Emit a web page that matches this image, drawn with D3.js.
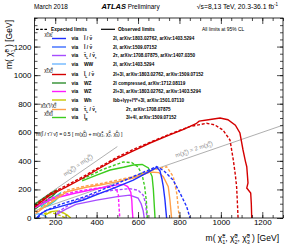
<!DOCTYPE html>
<html>
<head>
<meta charset="utf-8">
<script src="https://cdn.jsdelivr.net/npm/d3@7"></script>
<style>
  body { margin: 0; background: #fff; }
  text { font-family: "Liberation Sans", Arial, sans-serif; }
</style>
</head>
<body>
<svg id="chart" width="288" height="248"></svg>
<script>
// ATLAS electroweakino summary, March 2018

// legend entries (one per analysis)
const groupLabels = ['χ̃^{+}_{1}χ̃^{-}_{1}', 'χ̃^{±}_{1}χ̃^{0}_{2}', 'χ̃^{±}_{1}χ̃^{∓}_{1}/χ̃^{0}_{2}', 'χ̃^{0}_{2}χ̃^{0}_{3}']
const seriesIds = ['c1c1Slep', 'c1c1Slep8', 'c1c1Stau', 'c1c1WW', 'c1n2Slep', 'c1n2WZcomp', 'c1n2WZ', 'c1n2Wh', 'c1n2Stau', 'n2n3Slep']
const seriesGroup = [0, 0, 0, 0, 1, 1, 1, 1, 2, 3]
const viaLabels = ['l̃ / ν̃', 'l̃ / ν̃', 'τ̃_{L} / ν̃_{τ}', 'WW', 'l̃_{L} / ν̃', 'WZ', 'WZ', 'Wh', 'τ̃_{L} / ν̃_{τ}', 'l̃_{R}']
const refLabels = [
    '2l, arXiv:1803.02762, arXiv:1403.5294',
    '2l, arXiv:1509.07152',
    '2τ, arXiv:1708.07875, arXiv:1407.0350',
    '2l, arXiv:1403.5294',
    '2l+3l, arXiv:1803.02762, arXiv:1509.07152',
    '2l compressed, arXiv:1712.08119',
    '2l+3l, arXiv:1803.02762, arXiv:1403.5294',
    'lbb+lγγ+l^{±}l^{±}+3l, arXiv:1501.07110',
    '2τ, arXiv:1708.07875',
    '3l+4l, arXiv:1509.07152'
]

// exclusion contours [m(chargino/neutralino), m(LSP)] in GeV
const c1c1SlepObs = [[110, 0], [130, 30], [160, 55], [223, 80], [335, 126], [416, 172], [498, 218], [577, 265], [658, 328], [690, 355], [706, 330], [715, 275], [722, 219], [730, 126], [734, 60], [738, 0]]
const c1c1SlepExp = [[115, 0], [140, 42], [223, 95], [335, 145], [416, 192], [498, 240], [577, 290], [658, 340], [690, 360], [725, 330], [769, 266], [803, 174], [835, 79], [851, 0]]
const c1c1StauObs = [[200, 20], [250, 60], [300, 95], [400, 125], [500, 150], [560, 160], [600, 140], [615, 100], [625, 50], [630, 0]]
const c1c1StauExp = [[210, 40], [300, 120], [400, 170], [480, 195], [560, 205], [600, 195], [625, 160], [637, 100], [643, 0]]
const c1c1WWObs = [[100, 25], [120, 30], [140, 22], [155, 10], [160, 0]]
const c1n2SlepObs = [[100, 75], [130, 110], [175, 160], [250, 215], [335, 280], [416, 350], [498, 415], [577, 470], [658, 525], [750, 580], [820, 620], [880, 660], [895, 678], [940, 688], [996, 700], [1034, 688], [1070, 650], [1092, 595], [1107, 476], [1118, 400], [1125, 359], [1131, 245], [1125, 210], [1144, 175], [1147, 100], [1149, 0]]
const c1n2SlepExp = [[100, 85], [175, 170], [250, 225], [335, 290], [416, 358], [498, 425], [577, 480], [658, 530], [750, 585], [850, 640], [931, 663], [970, 652], [1010, 616], [1044, 546], [1060, 406], [1070, 300], [1076, 219], [1080, 100], [1083, 0]]
const c1n2WZcompObs = [[100, 92], [130, 124], [160, 153], [190, 182], [205, 195], [210, 190], [195, 165], [165, 130], [135, 98], [110, 70], [100, 60]]
const c1n2WZcompExp = [[100, 96], [140, 134], [175, 168], [200, 190], [205, 180], [180, 150], [145, 112], [115, 80], [100, 66]]
const c1n2WZObs = [[100, 70], [150, 110], [200, 140], [300, 175], [400, 205], [460, 222], [500, 232], [530, 235], [550, 220], [565, 180], [570, 120], [572, 60], [575, 0]]
const c1n2WZExp = [[100, 80], [150, 120], [200, 150], [300, 185], [400, 208], [470, 218], [495, 205], [505, 160], [508, 80], [512, 0]]
const c1n2WhObs = [[150, 20], [180, 45], [210, 50], [240, 35], [260, 18], [275, 0]]
const c1n2WhExp = [[145, 30], [175, 40], [200, 30], [230, 15], [250, 0]]
const cyanLoop = [[130, 80], [160, 110], [190, 140], [215, 165], [225, 175], [220, 150], [200, 120], [170, 90], [145, 75], [130, 80]]
const c1n2StauObs = [[105, 30], [150, 80], [257, 184], [350, 215], [416, 231], [500, 255], [577, 280], [658, 322], [700, 318], [722, 289], [746, 219], [754, 126], [762, 0]]
const c1n2StauExp = [[105, 40], [150, 90], [257, 195], [350, 225], [416, 240], [500, 265], [577, 290], [658, 332], [738, 359], [770, 289], [787, 173], [799, 0]]
const n2n3SlepObs = [[330, 260], [400, 300], [465, 336], [530, 355], [577, 371], [620, 375], [650, 350], [668, 290], [674, 200], [678, 100], [682, 0]]
const n2n3SlepExp = [[330, 272], [430, 340], [528, 392], [570, 388], [600, 358], [620, 300], [632, 220], [640, 120], [645, 0]]

// kinematic reference lines
const diagLine = [[100, 100], [500, 500]]
const halfLine = [[100, 50], [1300, 650]]

const xTicks = [200, 400, 600, 800, 1000, 1200]
const yTicks = [0, 200, 400, 600, 800, 1000, 1200]

const colour = {
    c1c1Slep: '#1f2fff', c1c1Slep8: '#3b6cff', c1c1Stau: '#a64dff', c1c1WW: '#6fb8ff',
    c1n2Slep: '#d40000', c1n2WZcomp: '#2e8f2e', c1n2WZ: '#ff1aff', c1n2Wh: '#c8c800',
    c1n2Stau: '#ffa04a', n2n3Slep: '#3ccc1e'
}

const curves = [
    { id: 'c1n2WZcomp', obs: c1n2WZcompObs, exp: c1n2WZcompExp },
    { id: 'c1c1WW', obs: c1c1WWObs, exp: null },
    { id: 'c1n2Wh', obs: c1n2WhObs, exp: c1n2WhExp },
    { id: 'c1c1Stau', obs: c1c1StauObs, exp: c1c1StauExp },
    { id: 'c1n2WZ', obs: c1n2WZObs, exp: c1n2WZExp },
    { id: 'n2n3Slep', obs: n2n3SlepObs, exp: n2n3SlepExp },
    { id: 'c1n2Stau', obs: c1n2StauObs, exp: c1n2StauExp },
    { id: 'c1c1Slep', obs: c1c1SlepObs, exp: c1c1SlepExp },
    { id: 'c1n2Slep', obs: c1n2SlepObs, exp: c1n2SlepExp }
]

const x = d3.scaleLinear().domain([100, 1300]).range([34.5, 283])
const y = d3.scaleLinear().domain([0, 1400]).range([218, 18])

const svg = d3.select('#chart')

// text with ^{sup} and _{sub} markup
function rich(sel, str, fs) {
    const parts = str.split(/(\^\{[^}]*\}|_\{[^}]*\})/).filter(p => p !== '')
    let cur = 0, prevSup = null
    parts.forEach(p => {
        let lvl = 0, txt = p
        if (p.startsWith('^{')) { lvl = -0.4 * fs; txt = p.slice(2, -1) }
        else if (p.startsWith('_{')) { lvl = 0.3 * fs; txt = p.slice(2, -1) }
        const t = sel.append('tspan').attr('dy', lvl - cur).text(txt)
        if (lvl !== 0) t.attr('font-size', fs * 0.65)
        if (p.startsWith('_{') && prevSup) t.attr('dx', -prevSup.length * 0.37 * fs)
        prevSup = p.startsWith('^{') ? txt : null
        cur = lvl
    })
    return sel
}

svg.append('clipPath').attr('id', 'plotArea')
    .append('rect').attr('x', 34.5).attr('y', 18).attr('width', 248.5).attr('height', 200)

const plot = svg.append('g').attr('clip-path', 'url(#plotArea)')
const line = d3.line().x(d => x(d[0])).y(d => y(d[1]))

// reference lines
plot.selectAll('.ref')
    .data([diagLine, halfLine])
    .join('path')
    .attr('d', line)
    .attr('fill', 'none')
    .attr('stroke', '#9a9a9a')
    .attr('stroke-width', 0.8)

function angleOf(seg) {
    return Math.atan2(y(seg[1][1]) - y(seg[0][1]), x(seg[1][0]) - x(seg[0][0])) * 180 / Math.PI
}

rich(svg.append('text')
    .attr('transform', `translate(${x(330) - 3},${y(330) - 4}) rotate(${angleOf(diagLine)})`)
    .attr('text-anchor', 'middle')
    .attr('font-size', 5.8)
    .attr('fill', '#8a8a8a'), 'm(χ̃^{0}_{2}) = m(χ̃^{0}_{1})', 5.8)

rich(svg.append('text')
    .attr('transform', `translate(${x(880) - 1.5},${y(440) - 4}) rotate(${angleOf(halfLine)})`)
    .attr('text-anchor', 'middle')
    .attr('font-size', 5.8)
    .attr('fill', '#8a8a8a'), 'm(χ̃^{±}_{1}) = 2 m(χ̃^{0}_{1})', 5.8)

// cyan loop near the diagonal
plot.append('path')
    .attr('d', line(cyanLoop))
    .attr('fill', 'none')
    .attr('stroke', '#22d3d3')
    .attr('stroke-width', 1.2)

curves.forEach(c => {
    if (c.exp) {
        plot.append('path')
            .attr('d', line(c.exp))
            .attr('fill', 'none')
            .attr('stroke', colour[c.id])
            .attr('stroke-width', 1.4)
            .attr('stroke-dasharray', '3,1.8')
    }
    plot.append('path')
        .attr('d', line(c.obs))
        .attr('fill', 'none')
        .attr('stroke', colour[c.id])
        .attr('stroke-width', 1.4)
})

// axes with inward ticks (major + minor)
function ticksOn(axisFn, scale, pos, values, size, labels) {
    const a = axisFn(scale).tickValues(values).tickSizeInner(-size).tickSizeOuter(0)
    if (!labels) a.tickFormat('')
    else a.tickPadding(axisFn === d3.axisBottom ? 1.5 : 3).tickFormat(d3.format('d'))
    const g = svg.append('g').attr('transform', pos).call(a)
    g.select('.domain').remove()
    g.selectAll('line').attr('stroke', '#000').attr('stroke-width', 0.7)
    g.selectAll('text').attr('font-size', 8).attr('font-family', '"Liberation Sans", Arial, sans-serif').attr('fill', '#000')
    return g
}
const xMinor = d3.range(100, 1301, 50)
const yMinor = d3.range(0, 1401, 50)
ticksOn(d3.axisBottom, x, 'translate(0,218)', xMinor, 3, false)
ticksOn(d3.axisBottom, x, 'translate(0,218)', xTicks, 6, true)
ticksOn(d3.axisTop, x, 'translate(0,18)', xMinor, 3, false)
ticksOn(d3.axisTop, x, 'translate(0,18)', xTicks, 6, false)
ticksOn(d3.axisLeft, y, 'translate(34.5,0)', yMinor, 3, false)
ticksOn(d3.axisLeft, y, 'translate(34.5,0)', yTicks, 6, true)
ticksOn(d3.axisRight, y, 'translate(283,0)', yMinor, 3, false)
ticksOn(d3.axisRight, y, 'translate(283,0)', yTicks, 6, false)

svg.append('rect')
    .attr('x', 34.5).attr('y', 18).attr('width', 248.5).attr('height', 200)
    .attr('fill', 'none').attr('stroke', '#000').attr('stroke-width', 0.8)

// axis titles
rich(svg.append('text')
    .attr('x', 279).attr('y', 241)
    .attr('text-anchor', 'end')
    .attr('font-size', 8.5), 'm( χ̃^{±}_{1}, χ̃^{0}_{2}, χ̃^{0}_{3} ) [GeV]', 8.5)

rich(svg.append('text')
    .attr('transform', 'translate(12,20) rotate(-90)')
    .attr('text-anchor', 'end')
    .attr('font-size', 8.5), 'm( χ̃^{0}_{1} ) [GeV]', 8.5)

// header
svg.append('text').attr('x', 34).attr('y', 9).attr('font-size', 6.4).text('March 2018')
const head = svg.append('text').attr('x', 101.5).attr('y', 9)
head.append('tspan').attr('font-size', 7.5).attr('font-weight', 'bold').attr('font-style', 'italic').text('ATLAS')
head.append('tspan').attr('font-size', 6.4).text(' Preliminary')
rich(svg.append('text').attr('x', 278).attr('y', 9).attr('text-anchor', 'end').attr('font-size', 6.8),
    '√s=8,13 TeV, 20.3-36.1 fb^{-1}', 6.8)

// legend
const fs = 4.9
svg.append('line').attr('x1', 36).attr('x2', 48).attr('y1', 29.3).attr('y2', 29.3)
    .attr('stroke', '#000').attr('stroke-width', 1.2).attr('stroke-dasharray', '2.6,1.6')
svg.append('text').attr('x', 51).attr('y', 31).attr('font-size', fs).attr('font-weight', 'bold').text('Expected limits')
svg.append('line').attr('x1', 101).attr('x2', 115).attr('y1', 29.3).attr('y2', 29.3)
    .attr('stroke', '#000').attr('stroke-width', 1.2)
svg.append('text').attr('x', 118).attr('y', 31).attr('font-size', fs).attr('font-weight', 'bold').text('Observed limits')
svg.append('text').attr('x', 202).attr('y', 31).attr('font-size', fs).text('All limits at 95% CL')

const groupOffset = [0, 2, 3, 2.5]
const rowY = seriesIds.map((s, i) => 38.5 + i * 8.5 + groupOffset[seriesGroup[i]])

groupLabels.forEach((g, gi) => {
    const first = seriesGroup.indexOf(gi)
    rich(svg.append('text')
        .attr('x', 48.5).attr('y', rowY[first] - 2.6)
        .attr('text-anchor', 'middle')
        .attr('font-size', fs), g, fs)
})

seriesIds.forEach((id, i) => {
    const yy = rowY[i]
    svg.append('line').attr('x1', 52).attr('x2', 66).attr('y1', yy).attr('y2', yy)
        .attr('stroke', colour[id]).attr('stroke-width', 1.4)
    svg.append('text').attr('x', 71.5).attr('y', yy + 1.7).attr('font-size', fs).attr('font-weight', 'bold').text('via')
    rich(svg.append('text').attr('x', 84).attr('y', yy + 1.7).attr('font-size', fs).attr('font-weight', 'bold'), viaLabels[i], fs)
    rich(svg.append('text').attr('x', i < 8 ? 113 : 126).attr('y', yy + 1.7).attr('font-size', fs * 0.95).attr('font-weight', 'bold'), refLabels[i], fs * 0.95)
})

rich(svg.append('text').attr('x', 36).attr('y', 135.5).attr('font-size', 5.1),
    'm(l̃ / τ̃ / ν̃) = 0.5 [ m(χ̃^{0}_{1}) + m(χ̃^{±}_{1}, χ̃^{0}_{2}, χ̃^{0}_{3}) ]', 5.1)
</script>
</body>
</html>
